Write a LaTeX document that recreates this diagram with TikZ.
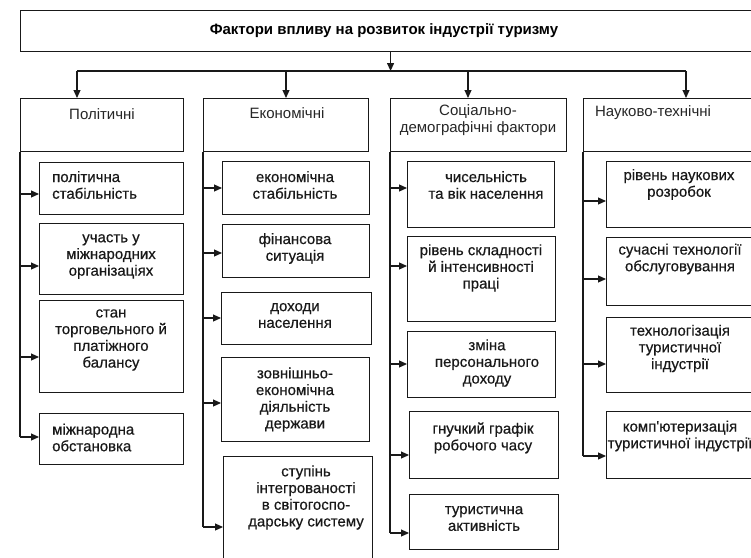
\documentclass[tikz,border=0pt]{standalone}
\usepackage{fontspec}
\setmainfont{Liberation Sans}
\newfontfamily\semibf[FakeBold=0.5]{Liberation Sans}
\usetikzlibrary{arrows.meta}
\begin{document}
\begin{tikzpicture}[x=1pt,y=-1pt,
  box/.style={draw=black!90, line width=1.1pt, anchor=north west, inner sep=0pt},
  txt/.style={font=\semibf\fontsize{15}{16.7}\selectfont, inner sep=0pt, align=center, text=black!90},
  cat/.style={font=\fontsize{15}{16.7}\selectfont, inner sep=0pt, align=center, text=black!85},
  txtl/.style={txt, align=left, anchor=west},
  ttl/.style={font=\fontsize{15}{17}\selectfont\bfseries, inner sep=0pt, text=black},
  ln/.style={line width=1.1pt, draw=black!90},
  arr/.style={ln, -{Triangle[length=8pt,width=7pt]}}]
\useasboundingbox (0,0) rectangle (751,557);
\fill[white] (0,0) rectangle (751,557);
\clip (0,0) rectangle (751,557);

% title
\node[box, minimum width=740pt, minimum height=41pt] (top) at (20,10) {};
\node[ttl] (title) at (384,31) {Фактори впливу на розвиток індустрії туризму};

% categories
\node[box, minimum width=163pt, minimum height=53pt] (c1) at (20,98) {};
\node[box, minimum width=165pt, minimum height=53pt] (c2) at (203,98) {};
\node[box, minimum width=176pt, minimum height=53pt] (c3) at (390,98) {};
\node[box, minimum width=200pt, minimum height=53pt] (c4) at (583,98) {};
\node[cat] (c1t) at (102,114) {Політичні};
\node[cat] (c2t) at (287,113) {Економічні};
\node[cat] (c3t) at (478,120) {Соціально-\\демографічні фактори};
\node[cat] (c4t) at (653,113) {Науково-технічні};

% bar and arrows
\coordinate (b1) at (77,71);
\coordinate (b2) at (286,71);
\coordinate (b3) at (468,71);
\coordinate (b4) at (686,71);
\draw[ln] (b1) -- (b4);
\draw[arr] (top.south) -- (top.south |- b1);
\draw[arr] (b1) -- (b1 |- c1.north);
\draw[arr] (b2) -- (b2 |- c2.north);
\draw[arr] (b3) -- (b3 |- c3.north);
\draw[arr] (b4) -- (b4 |- c4.north);

% political
\node[box, minimum width=144pt, minimum height=52pt] (p1) at (39,162) {};
\node[box, minimum width=144pt, minimum height=71pt] (p2) at (39,223) {};
\node[box, minimum width=144pt, minimum height=92pt] (p3) at (39,300) {};
\node[box, minimum width=144pt, minimum height=51pt] (p4) at (39,413) {};
\node[txtl] (p1t) at (52,185) {політична\\стабільність};
\node[txt] (p2t) at (111,256.5) {участь у\\міжнародних\\організаціях};
\node[txt] (p3t) at (111,340) {стан\\торговельного й\\платіжного\\балансу};
\node[txtl] (p4t) at (52,437.5) {міжнародна\\обстановка};
\coordinate (pa4) at (20,437);
\draw[ln] (c1.south west) -- (pa4);
\foreach \n/\y in {1/194,2/266,3/357,4/437}{
  \coordinate (pa\n) at (20,\y);
  \draw[arr] (pa\n) -- (pa\n -| p\n.west);
}

% economic
\node[box, minimum width=147pt, minimum height=53pt] (e1) at (222,161) {};
\node[box, minimum width=147pt, minimum height=53pt] (e2) at (222,224) {};
\node[box, minimum width=150pt, minimum height=52pt] (e3) at (221,292) {};
\node[box, minimum width=148pt, minimum height=84pt] (e4) at (221,357) {};
\node[box, minimum width=149pt, minimum height=120pt] (e5) at (223,456) {};
\node[txt] (e1t) at (295,185) {економічна\\стабільність};
\node[txt] (e2t) at (295,248.5) {фінансова\\ситуація};
\node[txt] (e3t) at (295,315.5) {доходи\\населення};
\node[txt] (e4t) at (295,399.5) {зовнішньо-\\економічна\\діяльність\\держави};
\node[txt] (e5t) at (306,497.5) {ступінь\\інтегрованості\\в світогоспо-\\дарську систему};
\coordinate (ea5) at (203,527);
\draw[ln] (c2.south west) -- (ea5);
\foreach \n/\y in {1/188,2/253,3/318,4/403,5/527}{
  \coordinate (ea\n) at (203,\y);
  \draw[arr] (ea\n) -- (ea\n -| e\n.west);
}

% social
\node[box, minimum width=147pt, minimum height=66pt] (s1) at (407,161) {};
\node[box, minimum width=148pt, minimum height=85pt] (s2) at (407,236) {};
\node[box, minimum width=148pt, minimum height=66pt] (s3) at (407,331) {};
\node[box, minimum width=149pt, minimum height=67pt] (s4) at (409,411) {};
\node[box, minimum width=149pt, minimum height=55pt] (s5) at (409,494) {};
\node[txt] (s1t) at (486,185) {чисельність\\та вік населення};
\node[txt] (s2t) at (481,268) {рівень складності\\й інтенсивності\\праці};
\node[txt] (s3t) at (487,363) {зміна\\персонального\\доходу};
\node[txt] (s4t) at (483,438) {гнучкий графік\\робочого часу};
\node[txt] (s5t) at (484,518.5) {туристична\\активність};
\coordinate (sa5) at (390,533);
\draw[ln] (c3.south west) -- (sa5);
\foreach \n/\y in {1/188,2/266,3/364,4/455,5/533}{
  \coordinate (sa\n) at (390,\y);
  \draw[arr] (sa\n) -- (sa\n -| s\n.west);
}

% science
\node[box, minimum width=180pt, minimum height=66pt] (t1) at (606,161) {};
\node[box, minimum width=180pt, minimum height=68pt] (t2) at (606,237) {};
\node[box, minimum width=180pt, minimum height=75pt] (t3) at (606,317) {};
\node[box, minimum width=180pt, minimum height=67pt] (t4) at (606,411) {};
\node[txt] (t1t) at (679,184.5) {рівень наукових\\розробок};
\node[txt] (t2t) at (680,259) {сучасні технології\\обслуговування};
\node[txt] (t3t) at (680,348.5) {технологізація\\туристичної\\індустрії};
\node[txt] (t4t) at (680,436) {комп'ютеризація\\туристичної індустрії};
\coordinate (ta4) at (583,456);
\draw[ln] (c4.south west) -- (ta4);
\foreach \n/\y in {1/201,2/279,3/364,4/456}{
  \coordinate (ta\n) at (583,\y);
  \draw[arr] (ta\n) -- (ta\n -| t\n.west);
}
\end{tikzpicture}
\end{document}
